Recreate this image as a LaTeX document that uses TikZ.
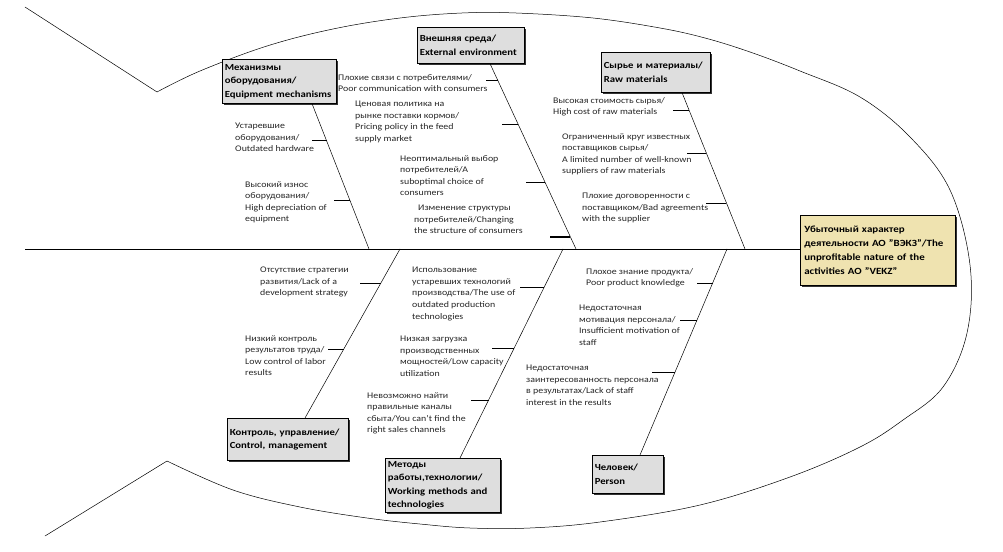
\documentclass[tikz,border=0pt]{standalone}
\usepackage{fontspec}
\setmainfont{Carlito}[FakeStretch=1.15]
\usetikzlibrary{shadows}
\definecolor{boxgray}{HTML}{DEDEDE}
\definecolor{effectfill}{HTML}{EFE3B0}
\begin{document}
\begin{tikzpicture}[x=1pt,y=-1pt,
  catbox/.style={draw=black, line width=0.6pt, fill=boxgray, anchor=north west,
    inner sep=2.5pt, align=left, font=\bfseries\fontsize{9.3}{13.5}\selectfont,
    drop shadow={shadow xshift=1.3pt, shadow yshift=-1.3pt, fill=black!80, opacity=1}},
  cause/.style={anchor=north west, inner sep=0pt, align=left,
    font=\fontsize{8.6}{11.6}\selectfont, text=black!85},
  bone/.style={line width=0.5pt},
  twig/.style={line width=0.8pt},
  outline/.style={line width=0.5pt},
]
\useasboundingbox (0,0) rectangle (1003,551);

% fish outline
\draw[outline] (25,7) -- (157,92);
\draw[outline] (45,536) -- (167,461);
\draw[outline] plot[smooth, tension=0.6] coordinates {
  (157,92) (200,71) (267,46) (333,29) (400,18) (462,13) (516,13) (593,18)
  (660,28) (705,38) (750,52) (800,71) (860,97) (910,137) (950,190) (970,265)
  (967,333) (943,387) (903,420) (860,447) (790,477) (700,505) (600,522)
  (530,528) (470,528) (420,524) (367,518) (300,507) (233,490) (167,461)};

% effect box
\node[draw=black, line width=0.6pt, fill=effectfill, anchor=north west, inner sep=4pt,
  minimum width=155pt, minimum height=70pt, text width=147pt, align=left,
  font=\bfseries\fontsize{9.5}{14}\selectfont,
  drop shadow={shadow xshift=1.3pt, shadow yshift=-1.3pt, fill=black!80, opacity=1}]
  (effect) at (800,215) {Убыточный характер\\деятельности АО "ВЭКЗ"/The\\unprofitable nature of the\\activities АО "VEKZ"};

% spine
\coordinate (tailend) at (25,249);
\draw[line width=1pt] (tailend) -- (effect.west |- tailend);

% category boxes
\node[catbox, minimum width=114pt, minimum height=44pt, text width=109pt] (equip) at (222,59)
  {Механизмы\\оборудования/\\Equipment mechanisms};
\node[catbox, minimum width=107pt, minimum height=36pt, text width=102pt] (ext) at (417,27)
  {Внешняя среда/\\External environment};
\node[catbox, minimum width=109pt, minimum height=40pt, text width=104pt] (raw) at (601,52)
  {Сырье и материалы/\\Raw materials};
\node[catbox, minimum width=121pt, minimum height=42pt, text width=116pt] (ctrl) at (227,418)
  {Контроль, управление/\\Control, management};
\node[catbox, minimum width=115pt, minimum height=54pt, text width=110pt] (meth) at (385,458)
  {Методы\\работы,технологии/\\Working methods and\\technologies};
\node[catbox, minimum width=71pt, minimum height=38pt, text width=66pt] (pers) at (592,455)
  {Человек/\\Person};

% bones
\coordinate (j1) at (369,249);
\coordinate (j2) at (576,249);
\coordinate (j3) at (745,249);
\coordinate (j4) at (400,249);
\coordinate (j5) at (563,249);
\coordinate (j6) at (727,249);
\draw[bone] ([xshift=90pt]equip.south west) -- (j1);
\draw[bone] ([xshift=73pt]ext.south west) -- (j2);
\draw[bone] ([xshift=81pt]raw.south west) -- (j3);
\draw[bone] (j4) -- ([xshift=78pt]ctrl.north west);
\draw[bone] (j5) -- ([xshift=75pt]meth.north west);
\draw[bone] (j6) -- ([xshift=48pt]pers.north west);

% twigs (branches) on bones
\foreach \x/\y in {327/140, 350/200, 498/80, 518/124, 545/182, 570/237,
  689/110, 706/153, 726/203, 381/283, 344/349, 544/287, 514/348, 489/400,
  713/283, 697/320, 675/372}
  \coordinate (tw-\x-\y) at (\x,\y);
\draw[twig] (tw-327-140) -- ++(-15,0);
\draw[twig] (tw-350-200) -- ++(-16,0);
\draw[twig] (tw-498-80) -- ++(-12,0);
\draw[twig] (tw-518-124) -- ++(-16,0);
\draw[twig] (tw-545-182) -- ++(-19,0);
\draw[twig, line width=1.4pt] (tw-570-237) -- ++(-20,0);
\draw[twig] (tw-689-110) -- ++(-16,0);
\draw[twig] (tw-706-153) -- ++(-19,0);
\draw[twig] (tw-726-203) -- ++(-20,0);
\draw[twig] (tw-381-283) -- ++(-21,0);
\draw[twig] (tw-344-349) -- ++(-16,0);
\draw[twig] (tw-544-287) -- ++(-24,0);
\draw[twig] (tw-514-348) -- ++(-22,0);
\draw[twig] (tw-489-400) -- ++(-18,0);
\draw[twig] (tw-713-283) -- ++(-16,0);
\draw[twig] (tw-697-320) -- ++(-17,0);
\draw[twig] (tw-675-372) -- ++(-23,0);

% cause texts
\node[cause] (c11) at (235,123) {Устаревшие\\оборудования/\\Outdated hardware};
\node[cause] (c12) at (245,181) {Высокий износ\\оборудования/\\High depreciation of\\equipment};
\node[cause] (c21) at (338,74) {Плохие связи с потребителями/\\Poor communication with consumers};
\node[cause] (c22) at (355,101) {Ценовая политика на\\рынке поставки кормов/\\Pricing policy in the feed\\supply market};
\node[cause] (c23) at (400,155) {Неоптимальный выбор\\потребителей/A\\suboptimal choice of\\consumers};
\node[cause] (c24) at (414,205) {\hspace*{4pt}Изменение структуры\\потребителей/Changing\\the structure of consumers};
\node[cause] (c31) at (553,97) {Высокая стоимость сырья/\\High cost of raw materials};
\node[cause] (c32) at (562,133) {Ограниченный круг известных\\поставщиков сырья/\\A limited number of well-known\\suppliers of raw materials};
\node[cause] (c33) at (582,193) {Плохие договоренности с\\поставщиком/Bad agreements\\with the supplier};
\node[cause] (c41) at (260,267) {Отсутствие стратегии\\развития/Lack of a\\development strategy};
\node[cause] (c42) at (245,335) {Низкий контроль\\результатов труда/\\Low control of labor\\results};
\node[cause] (c51) at (412,267) {Использование\\устаревших технологий\\производства/The use of\\outdated production\\technologies};
\node[cause] (c52) at (400,336) {Низкая загрузка\\производственных\\мощностей/Low capacity\\utilization};
\node[cause] (c53) at (367,392) {Невозможно найти\\правильные каналы\\сбыта/You can't find the\\right sales channels};
\node[cause] (c61) at (586,268) {Плохое знание продукта/\\Poor product knowledge};
\node[cause] (c62) at (579,305) {Недостаточная\\мотивация персонала/\\Insufficient motivation of\\staff};
\node[cause] (c63) at (526,365) {Недостаточная\\заинтересованность персонала\\в результатах/Lack of staff\\interest in the results};
\end{tikzpicture}
\end{document}
